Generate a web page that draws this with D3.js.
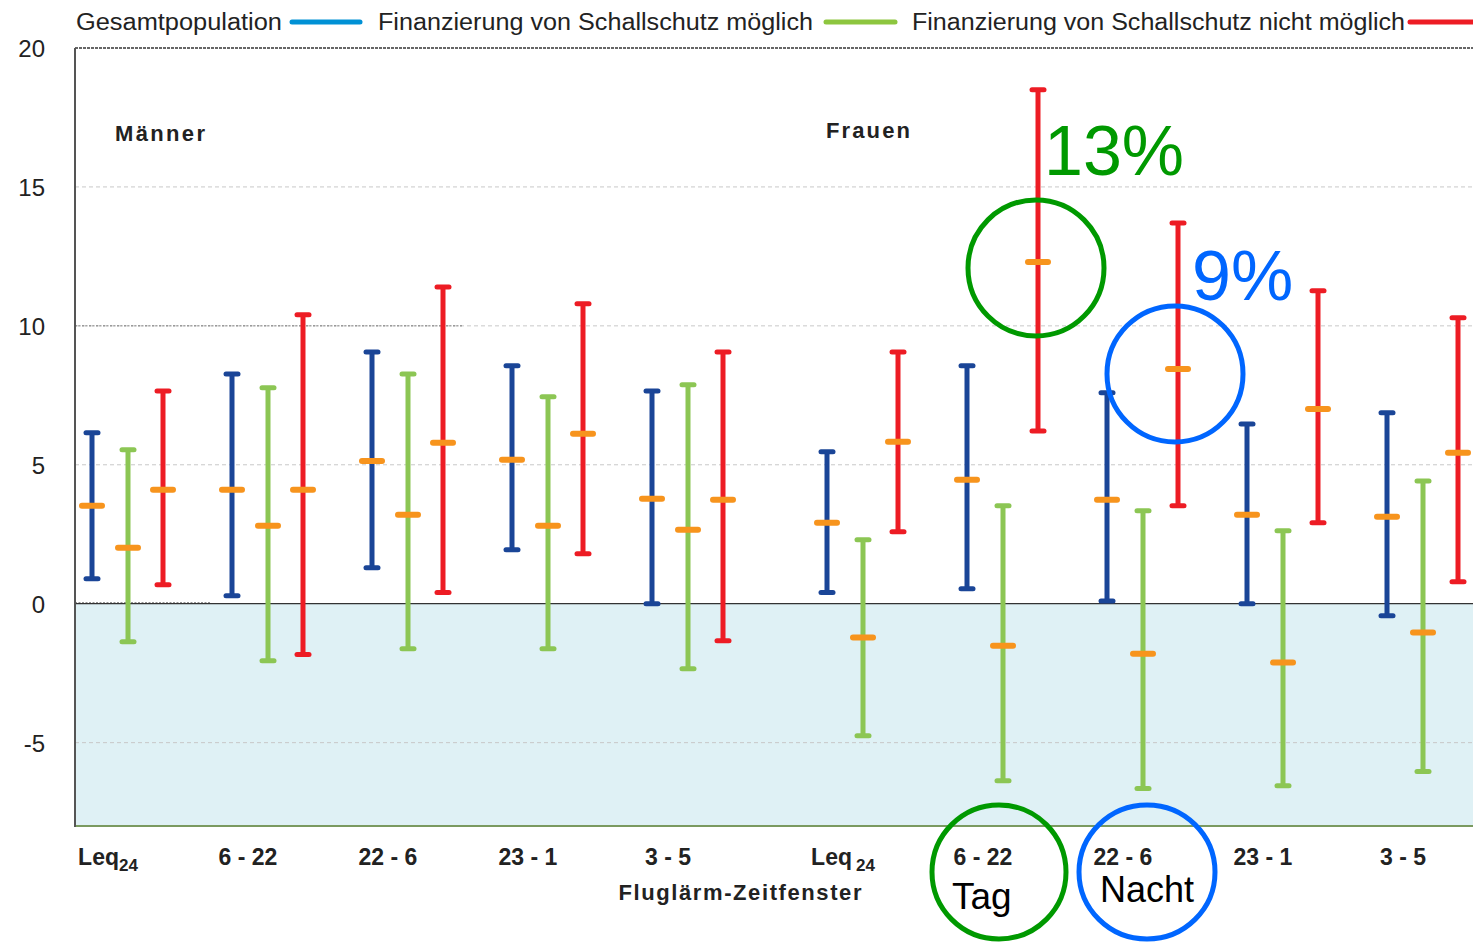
<!DOCTYPE html>
<html>
<head>
<meta charset="UTF-8">
<title>Fluglärm-Zeitfenster</title>
<style>
  body { margin: 0; background: #fff; }
  text { font-family: "Liberation Sans", Arial, sans-serif; }
</style>
</head>
<body>
<script src="https://cdn.jsdelivr.net/npm/d3@7"></script>
<script>
// Kategorien
var groups = ["Männer", "Frauen"];
var windows = ["Leq", "6 - 22", "22 - 6", "23 - 1", "3 - 5"];
var yTicks = [-5, 0, 5, 10, 15, 20];

// Reihen: Mittelwert, untere und obere Grenze (je 5 Männer, 5 Frauen)
var blueMean  = [3.53, 4.10, 5.14, 5.18, 3.78, 2.91, 4.46, 3.74, 3.20, 3.13];
var blueLow   = [0.90, 0.29, 1.29, 1.94, 0.00, 0.40, 0.54, 0.10, 0.00, -0.43];
var blueHigh  = [6.15, 8.27, 9.06, 8.56, 7.66, 5.47, 8.56, 7.59, 6.47, 6.87];
var greenMean = [2.01, 2.81, 3.20, 2.81, 2.66, -1.22, -1.51, -1.80, -2.12, -1.04];
var greenLow  = [-1.37, -2.05, -1.62, -1.62, -2.34, -4.75, -6.37, -6.65, -6.55, -6.04];
var greenHigh = [5.54, 7.77, 8.27, 7.45, 7.88, 2.30, 3.53, 3.35, 2.63, 4.42];
var redMean   = [4.10, 4.10, 5.79, 6.12, 3.74, 5.83, 12.30, 8.45, 7.01, 5.43];
var redLow    = [0.68, -1.83, 0.40, 1.80, -1.33, 2.59, 6.22, 3.53, 2.91, 0.79];
var redHigh   = [7.66, 10.40, 11.40, 10.80, 9.06, 9.06, 18.50, 13.70, 11.26, 10.29];

var legendNames = ["Gesamtpopulation", "Finanzierung von Schallschutz möglich", "Finanzierung von Schallschutz nicht möglich"];

var width = 1473, height = 942;
var svg = d3.select("body").append("svg")
    .attr("width", width)
    .attr("height", height);

var pLeft = 75, pRight = 1473, pTop = 48, pBottom = 826;
var y = d3.scaleLinear().domain([-8, 20]).range([pBottom, pTop]);
// Position je Kategorie, mit kleiner Lücke zwischen Männer und Frauen
var x = d3.scaleLinear().domain([0, 9.25]).range([128, 1423]);
function pos(i) { return x(i + (i >= 5 ? 0.25 : 0)); }

var series = [
  {mean: blueMean, low: blueLow, high: blueHigh, color: "#1a4597", dx: -36},
  {mean: greenMean, low: greenLow, high: greenHigh, color: "#8cc654", dx: 0},
  {mean: redMean, low: redLow, high: redHigh, color: "#ed1c24", dx: 35}
];

//Hintergrund unter 0
svg.append("rect")
    .attr("x", pLeft).attr("y", y(0))
    .attr("width", pRight - pLeft).attr("height", pBottom - y(0))
    .attr("fill", "#dff1f5");

//Gitterlinien
yTicks.filter(function(t){ return t !== 0 && t !== 20; }).forEach(function(t){
  svg.append("line")
    .attr("x1", pLeft).attr("x2", pRight)
    .attr("y1", y(t)).attr("y2", y(t))
    .attr("stroke", "#c8c8c8").attr("stroke-dasharray", "4,3");
});
svg.append("line")
    .attr("x1", pLeft).attr("x2", 462).attr("y1", y(10)).attr("y2", y(10))
    .attr("stroke", "#777").attr("stroke-dasharray", "2,1.5");
svg.append("line")
    .attr("x1", pLeft).attr("x2", 210).attr("y1", y(0) - 1).attr("y2", y(0) - 1)
    .attr("stroke", "#777").attr("stroke-dasharray", "2,1.5");

//Nulllinie
svg.append("line")
    .attr("x1", pLeft).attr("x2", pRight).attr("y1", y(0)).attr("y2", y(0))
    .attr("stroke", "#333").attr("stroke-width", 1.3);

//Rahmen
svg.append("line")
    .attr("x1", pLeft).attr("x2", pRight).attr("y1", pTop).attr("y2", pTop)
    .attr("stroke", "#666").attr("stroke-width", 2).attr("stroke-dasharray", "3,1");
svg.append("line")
    .attr("x1", pLeft).attr("x2", pRight).attr("y1", pBottom).attr("y2", pBottom)
    .attr("stroke", "#7a9a60").attr("stroke-width", 2);
svg.append("line")
    .attr("x1", pLeft).attr("x2", pLeft).attr("y1", pTop).attr("y2", pBottom + 1)
    .attr("stroke", "#555").attr("stroke-width", 2);

//Y-Achsenbeschriftung
svg.selectAll(".ytick").data(yTicks).enter().append("text")
    .attr("x", 45).attr("y", function(d){ return y(d) + 9; })
    .attr("text-anchor", "end")
    .attr("font-size", 24).attr("fill", "#222")
    .text(function(d){ return d; });

//Fehlerbalken
series.forEach(function(s){
  var g = svg.append("g");
  d3.range(10).forEach(function(i){
    var cx = pos(i) + s.dx;
    g.append("line")
      .attr("x1", cx).attr("x2", cx)
      .attr("y1", y(s.low[i])).attr("y2", y(s.high[i]))
      .attr("stroke", s.color).attr("stroke-width", 5);
    [s.low[i], s.high[i]].forEach(function(v){
      g.append("line")
        .attr("x1", cx - 6).attr("x2", cx + 6)
        .attr("y1", y(v)).attr("y2", y(v))
        .attr("stroke", s.color).attr("stroke-width", 5)
        .attr("stroke-linecap", "round");
    });
  });
});
//Mittelwerte
series.forEach(function(s){
  d3.range(10).forEach(function(i){
    var cx = pos(i) + s.dx;
    svg.append("line")
      .attr("x1", cx - 10).attr("x2", cx + 10)
      .attr("y1", y(s.mean[i])).attr("y2", y(s.mean[i]))
      .attr("stroke", "#f7941d").attr("stroke-width", 6)
      .attr("stroke-linecap", "round");
  });
});

//Gruppenbeschriftung
svg.append("text").attr("x", 115).attr("y", 141)
    .attr("font-size", 22).attr("font-weight", "bold").attr("fill", "#222")
    .attr("textLength", 90).attr("lengthAdjust", "spacing")
    .text(groups[0]);
svg.append("text").attr("x", 826).attr("y", 138)
    .attr("font-size", 22).attr("font-weight", "bold").attr("fill", "#222")
    .attr("textLength", 84).attr("lengthAdjust", "spacing")
    .text(groups[1]);

//X-Achsenbeschriftung
d3.range(10).forEach(function(i){
  var label = windows[i % 5];
  var t = svg.append("text")
    .attr("x", pos(i) - 20).attr("y", 865)
    .attr("text-anchor", "middle")
    .attr("font-size", 23).attr("font-weight", "bold").attr("fill", "#222");
  if (label === "Leq") {
    t.append("tspan").text("Leq");
    t.append("tspan").attr("font-size", 17).attr("dy", 6).attr("dx", i >= 5 ? 4 : 0).text("24");
  } else {
    t.text(label);
  }
});
svg.append("text").attr("x", 740).attr("y", 900)
    .attr("text-anchor", "middle")
    .attr("font-size", 22).attr("font-weight", "bold").attr("fill", "#222")
    .attr("textLength", 243).attr("lengthAdjust", "spacing")
    .text("Fluglärm-Zeitfenster");

//Legende
var legendColors = ["#0091d5", "#8dc63f", "#ed1c24"];
var legendTextX = [76, 378, 912];
var legendTextW = [206, 435, 493];
var legendLineX = [292, 826, 1410];
var legendLineW = [68, 69, 63];
legendNames.forEach(function(name, i){
  svg.append("text").attr("x", legendTextX[i]).attr("y", 30)
    .attr("font-size", 23).attr("fill", "#222")
    .attr("textLength", legendTextW[i]).attr("lengthAdjust", "spacingAndGlyphs")
    .text(name);
  svg.append("line")
    .attr("x1", legendLineX[i]).attr("x2", legendLineX[i] + legendLineW[i])
    .attr("y1", 22).attr("y2", 22)
    .attr("stroke", legendColors[i]).attr("stroke-width", 5)
    .attr("stroke-linecap", "round");
});

//Hervorhebungen
var redS = series[2];
svg.append("circle")
    .attr("cx", pos(6) + redS.dx - 2).attr("cy", y(redMean[6]) + 6).attr("r", 68)
    .attr("fill", "none").attr("stroke", "#009900").attr("stroke-width", 5);
svg.append("circle")
    .attr("cx", pos(7) + redS.dx - 3).attr("cy", y(redMean[7]) + 5).attr("r", 68)
    .attr("fill", "none").attr("stroke", "#0066ff").attr("stroke-width", 5);
svg.append("text").attr("x", 1044).attr("y", 175)
    .attr("font-size", 70).attr("fill", "#009900").text("13%");
svg.append("text").attr("x", 1192).attr("y", 300)
    .attr("font-size", 70).attr("fill", "#0066ff").text("9%");

svg.append("ellipse")
    .attr("cx", 999).attr("cy", 872).attr("rx", 67).attr("ry", 67)
    .attr("fill", "none").attr("stroke", "#009900").attr("stroke-width", 5);
svg.append("ellipse")
    .attr("cx", 1147).attr("cy", 872).attr("rx", 68).attr("ry", 67)
    .attr("fill", "none").attr("stroke", "#0066ff").attr("stroke-width", 5);
svg.append("text").attr("x", 952).attr("y", 909)
    .attr("font-size", 37).attr("fill", "#000").text("Tag");
svg.append("text").attr("x", 1100).attr("y", 902)
    .attr("font-size", 36).attr("fill", "#000").text("Nacht");
</script>
</body>
</html>
